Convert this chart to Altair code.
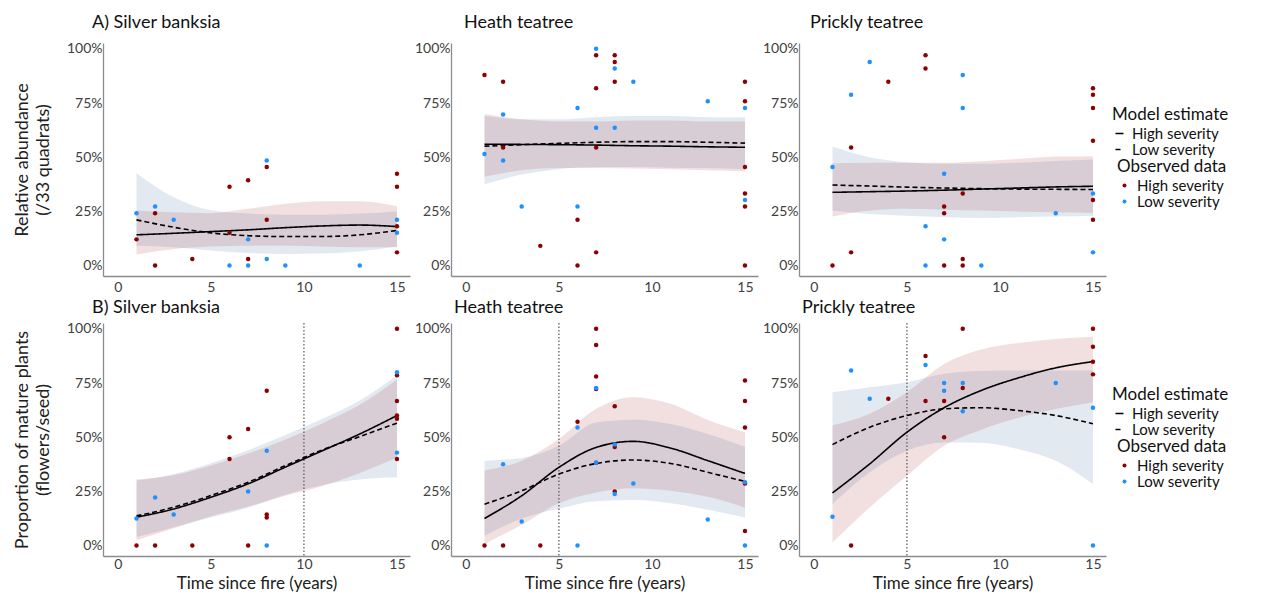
import altair as alt
import pandas as pd

FONT = "Lato"
SEV = ["High severity", "Low severity"]
XS = [1, 3, 5, 7, 9, 11, 13, 15]
X_TICKS = [0, 5, 10, 15]
Y_TICKS = [0, 25, 50, 75, 100]
X_DOMAIN = [-0.8, 15.7]
Y_DOMAIN = [-4.8, 102.7]

# ---------------- Observed data (percent) ----------------
A_BANKSIA_HIGH_X = [1, 2, 2, 4, 6, 6, 7, 7, 8, 8, 15, 15, 15, 15]
A_BANKSIA_HIGH_Y = [12.1, 24.2, 0, 3.0, 36.4, 15.2, 39.4, 3.0, 45.5, 21.2, 42.4, 36.4, 18.2, 6.1]
A_BANKSIA_LOW_X = [1, 2, 3, 6, 7, 7, 8, 8, 9, 13, 15, 15]
A_BANKSIA_LOW_Y = [24.2, 27.3, 21.2, 0, 12.1, 0, 48.5, 3.0, 0, 0, 21.2, 15.2]

A_HEATH_HIGH_X = [1, 2, 2, 4, 6, 6, 7, 7, 7, 7, 8, 8, 8, 15, 15, 15, 15, 15, 15]
A_HEATH_HIGH_Y = [87.9, 84.8, 54.5, 9.1, 21.2, 0, 97.0, 81.8, 54.5, 6.1, 97.0, 93.9, 84.8, 84.8, 75.8, 45.5, 33.3, 27.3, 0]
A_HEATH_LOW_X = [1, 2, 2, 3, 6, 6, 7, 7, 8, 8, 9, 13, 15, 15]
A_HEATH_LOW_Y = [51.5, 69.7, 48.5, 27.3, 72.7, 27.3, 100, 63.6, 90.9, 63.6, 84.8, 75.8, 72.7, 30.3]

A_PRICKLY_HIGH_X = [1, 2, 2, 4, 6, 6, 7, 7, 7, 8, 8, 8, 15, 15, 15, 15, 15, 15]
A_PRICKLY_HIGH_Y = [0, 6.1, 54.5, 84.8, 97.0, 90.9, 27.3, 24.2, 0, 33.3, 3.0, 0, 81.8, 78.8, 72.7, 57.6, 30.3, 21.2]
A_PRICKLY_LOW_X = [1, 2, 3, 6, 6, 7, 7, 8, 8, 9, 13, 15, 15]
A_PRICKLY_LOW_Y = [45.5, 78.8, 93.9, 18.2, 0, 42.4, 12.1, 87.9, 72.7, 0, 24.2, 33.3, 6.1]

B_BANKSIA_HIGH_X = [1, 2, 4, 6, 6, 7, 7, 8, 8, 8, 15, 15, 15, 15, 15, 15]
B_BANKSIA_HIGH_Y = [0, 0, 0, 50, 40, 53.8, 0, 71.4, 14.3, 13.0, 100, 78.6, 66.7, 60, 58.5, 40]
B_BANKSIA_LOW_X = [1, 2, 3, 7, 8, 8, 15, 15]
B_BANKSIA_LOW_Y = [12.5, 22.2, 14.3, 25, 43.8, 0, 80, 42.9]

B_HEATH_HIGH_X = [1, 2, 4, 6, 7, 7, 7, 7, 7, 8, 8, 8, 15, 15, 15, 15, 15]
B_HEATH_HIGH_Y = [0, 0, 0, 57.1, 100, 92.6, 78, 72.2, 38.2, 64.3, 45.5, 25, 76.2, 66.7, 54.5, 28.6, 6.7]
B_HEATH_LOW_X = [2, 3, 6, 6, 7, 7, 8, 8, 9, 13, 15, 15]
B_HEATH_LOW_Y = [37.5, 11.1, 54.5, 0, 72.7, 38.2, 46.7, 23.8, 28.6, 12.0, 29.2, 0]

B_PRICKLY_HIGH_X = [2, 4, 6, 6, 7, 7, 8, 8, 15, 15, 15, 15]
B_PRICKLY_HIGH_Y = [0, 67.7, 87.5, 66.7, 66.7, 50, 100, 72.7, 100, 91.7, 84.8, 79]
B_PRICKLY_LOW_X = [1, 2, 3, 6, 7, 7, 8, 8, 13, 15, 15]
B_PRICKLY_LOW_Y = [13.3, 80.8, 67.7, 83.3, 75, 71.4, 75, 62, 75, 63.6, 0]

# ---------------- Model estimates at XS (percent) ----------------
A_BANKSIA_FIT_HIGH = [14.2, 14.9, 15.7, 16.5, 17.5, 18.3, 18.7, 18.0]
A_BANKSIA_FIT_LOW = [21.1, 17.7, 15.1, 13.8, 13.4, 13.4, 14.2, 16.2]
A_BANKSIA_CI_HIGH_LO = [5.1, 7.7, 8.8, 9.2, 9.2, 8.8, 8.5, 8.5]
A_BANKSIA_CI_HIGH_HI = [25.4, 24.6, 24.2, 26.2, 28.5, 29.7, 29.7, 27.4]
A_BANKSIA_CI_LOW_LO = [9.2, 8.5, 7.0, 5.8, 5.4, 5.6, 6.6, 8.8]
A_BANKSIA_CI_LOW_HI = [42.6, 31.5, 25.5, 24.0, 23.5, 23.5, 24.0, 25.0]

A_HEATH_FIT_HIGH = [56.0, 55.9, 55.8, 55.6, 55.3, 55.1, 54.8, 54.6]
A_HEATH_FIT_LOW = [55.1, 55.8, 56.4, 56.9, 57.2, 57.2, 56.9, 56.5]
A_HEATH_CI_HIGH_LO = [41.0, 44.0, 45.0, 45.0, 44.8, 44.5, 44.0, 43.5]
A_HEATH_CI_HIGH_HI = [70.0, 67.5, 66.5, 66.5, 67.0, 67.0, 66.5, 66.5]
A_HEATH_CI_LOW_LO = [37.5, 42.0, 44.5, 45.5, 45.5, 45.2, 45.0, 44.5]
A_HEATH_CI_LOW_HI = [69.0, 67.5, 67.5, 68.5, 69.0, 69.0, 68.5, 68.5]

A_PRICKLY_FIT_HIGH = [33.8, 34.1, 34.4, 34.8, 35.3, 35.8, 36.3, 36.6]
A_PRICKLY_FIT_LOW = [37.2, 36.7, 36.2, 35.8, 35.5, 35.3, 35.2, 35.1]
A_PRICKLY_CI_HIGH_LO = [22.6, 25.4, 26.2, 25.8, 25.4, 25.0, 24.6, 24.3]
A_PRICKLY_CI_HIGH_HI = [47.2, 47.4, 47.4, 47.4, 48.2, 49.2, 50.3, 50.5]
A_PRICKLY_CI_LOW_LO = [25.4, 23.8, 23.0, 22.3, 22.0, 22.3, 22.6, 23.0]
A_PRICKLY_CI_LOW_HI = [55.0, 50.0, 47.7, 47.0, 47.0, 47.5, 48.3, 49.0]

B_BANKSIA_FIT_HIGH = [13.1, 16.9, 22.3, 28.5, 36.2, 43.8, 51.5, 60.0]
B_BANKSIA_FIT_LOW = [13.7, 17.7, 23.1, 29.2, 36.9, 44.2, 50.3, 56.5]
B_BANKSIA_CI_HIGH_LO = [2.5, 8.0, 13.5, 18.0, 23.0, 27.5, 33.5, 40.5]
B_BANKSIA_CI_HIGH_HI = [30.5, 32.5, 37.0, 42.5, 49.0, 56.5, 65.0, 76.5]
B_BANKSIA_CI_LOW_LO = [4.0, 8.5, 13.0, 17.5, 23.5, 28.0, 30.5, 31.5]
B_BANKSIA_CI_LOW_HI = [30.0, 33.0, 38.0, 44.0, 51.0, 58.5, 67.0, 78.5]

B_HEATH_FIT_HIGH = [12.5, 23.0, 36.1, 45.3, 48.1, 45.0, 39.2, 33.3]
B_HEATH_FIT_LOW = [19.1, 25.3, 33.0, 37.9, 39.5, 37.9, 33.8, 29.6]
B_HEATH_CI_HIGH_LO = [0.7, 9.6, 19.5, 24.5, 26.5, 25.3, 22.5, 17.5]
B_HEATH_CI_HIGH_HI = [34.6, 39.2, 49.2, 63.1, 68.5, 65.4, 58.0, 52.3]
B_HEATH_CI_LOW_LO = [4.5, 12.5, 17.0, 20.5, 21.0, 19.5, 16.5, 13.0]
B_HEATH_CI_LOW_HI = [39.2, 40.4, 46.1, 56.8, 58.1, 56.1, 51.5, 45.6]

B_PRICKLY_FIT_HIGH = [24.3, 37.7, 52.3, 63.6, 71.6, 77.4, 82.0, 84.9]
B_PRICKLY_FIT_LOW = [46.6, 54.6, 60.0, 63.1, 63.6, 62.3, 60.0, 56.2]
B_PRICKLY_CI_HIGH_LO = [1.4, 17.6, 32.2, 46.1, 53.5, 59.0, 63.0, 66.1]
B_PRICKLY_CI_HIGH_HI = [55.4, 60.8, 70.8, 83.8, 90.5, 93.5, 95.3, 96.4]
B_PRICKLY_CI_LOW_LO = [19.2, 33.8, 43.8, 47.6, 47.5, 44.5, 39.2, 28.4]
B_PRICKLY_CI_LOW_HI = [70.8, 73.0, 75.4, 79.3, 80.6, 80.8, 80.8, 80.8]

# vertical reference lines (row B)
B_RULES = [10, 5, 5]

TITLES_A = ["A)  Silver banksia", "Heath teatree", "Prickly teatree"]
TITLES_B = ["B)  Silver banksia", "Heath teatree", "Prickly teatree"]
Y_TITLE_A = ["Relative abundance", "(/33 quadrats)"]
Y_TITLE_B = ["Proportion of mature plants", "(flowers/seed)"]
X_TITLE_B = "Time since fire (years)"

PANEL_W, PANEL_H = 307, 233
POINT_COLORS = ["#8b0000", "#1e90ff"]
BAND_COLORS = ["#a52a2a", "#466a9a"]


def make_panel(title, title_dx, title_offset, pts, fit, ci, rule_x, y_title, x_title,
               x_label_pad):
    pts_df = pd.DataFrame({
        "x": pts[0] + pts[2],
        "y": pts[1] + pts[3],
        "sev": [SEV[0]] * len(pts[0]) + [SEV[1]] * len(pts[2]),
    })
    n = len(XS)
    cur_df = pd.DataFrame({
        "x": XS + XS,
        "est": fit[0] + fit[1],
        "lo": ci[0] + ci[2],
        "hi": ci[1] + ci[3],
        "sev": [SEV[0]] * n + [SEV[1]] * n,
    })
    xscale = alt.Scale(domain=X_DOMAIN, nice=False, zero=False)
    yscale = alt.Scale(domain=Y_DOMAIN, nice=False, zero=False)
    xax = alt.Axis(values=X_TICKS, title=x_title, labelPadding=x_label_pad,
                   titleFontSize=17, titlePadding=4)
    yax = alt.Axis(values=Y_TICKS, title=y_title, labelExpr="datum.value + '%'",
                   labelPadding=1, titleFontSize=18, titlePadding=14,
                   titleLineHeight=21)

    def X():
        return alt.X("x:Q", scale=xscale, axis=xax)

    band = alt.Chart(cur_df).mark_area(opacity=0.15, interpolate="monotone").encode(
        x=X(),
        y=alt.Y("lo:Q", scale=yscale, axis=yax),
        y2="hi:Q",
        fill=alt.Fill("sev:N", scale=alt.Scale(range=BAND_COLORS), legend=None),
    )
    line = alt.Chart(cur_df).mark_line(color="black", strokeWidth=1.6,
                                       interpolate="monotone").encode(
        x=X(),
        y=alt.Y("est:Q", scale=yscale, axis=yax),
        strokeDash=alt.StrokeDash(
            "sev:N",
            scale=alt.Scale(range=[[1, 0], [5, 3]]),
            legend=alt.Legend(title="Model estimate", orient="none",
                              legendX=1009, legendY=64, symbolType="stroke",
                              symbolStrokeColor="black", symbolSize=64,
                              symbolStrokeWidth=1.5),
        ),
    )
    points = alt.Chart(pts_df).mark_circle(size=20, opacity=1).encode(
        x=X(),
        y=alt.Y("y:Q", scale=yscale, axis=yax),
        color=alt.Color(
            "sev:N",
            scale=alt.Scale(range=POINT_COLORS),
            legend=alt.Legend(title="Observed data", orient="none",
                              legendX=1014, legendY=116, symbolType="circle",
                              symbolSize=16),
        ),
    )
    layers = [band]
    if rule_x is not None:
        rule = alt.Chart(pd.DataFrame({"x": [rule_x]})).mark_rule(
            color="#555555", strokeDash=[1.5, 2], strokeWidth=1.2
        ).encode(x=X())
        layers.append(rule)
    layers += [line, points]
    return alt.layer(*layers).properties(
        width=PANEL_W, height=PANEL_H,
        title=alt.TitleParams(text=title, dx=title_dx, offset=title_offset),
    )


row_a = alt.hconcat(
    make_panel(TITLES_A[0], -11, 10,
               (A_BANKSIA_HIGH_X, A_BANKSIA_HIGH_Y, A_BANKSIA_LOW_X, A_BANKSIA_LOW_Y),
               (A_BANKSIA_FIT_HIGH, A_BANKSIA_FIT_LOW),
               (A_BANKSIA_CI_HIGH_LO, A_BANKSIA_CI_HIGH_HI, A_BANKSIA_CI_LOW_LO, A_BANKSIA_CI_LOW_HI),
               None, Y_TITLE_A, None, 4),
    make_panel(TITLES_A[1], 13, 10,
               (A_HEATH_HIGH_X, A_HEATH_HIGH_Y, A_HEATH_LOW_X, A_HEATH_LOW_Y),
               (A_HEATH_FIT_HIGH, A_HEATH_FIT_LOW),
               (A_HEATH_CI_HIGH_LO, A_HEATH_CI_HIGH_HI, A_HEATH_CI_LOW_LO, A_HEATH_CI_LOW_HI),
               None, None, None, 4),
    make_panel(TITLES_A[2], 11, 10,
               (A_PRICKLY_HIGH_X, A_PRICKLY_HIGH_Y, A_PRICKLY_LOW_X, A_PRICKLY_LOW_Y),
               (A_PRICKLY_FIT_HIGH, A_PRICKLY_FIT_LOW),
               (A_PRICKLY_CI_HIGH_LO, A_PRICKLY_CI_HIGH_HI, A_PRICKLY_CI_LOW_LO, A_PRICKLY_CI_LOW_HI),
               None, None, None, 4),
).properties(spacing=41, bounds="flush")

row_b = alt.hconcat(
    make_panel(TITLES_B[0], -11, 5,
               (B_BANKSIA_HIGH_X, B_BANKSIA_HIGH_Y, B_BANKSIA_LOW_X, B_BANKSIA_LOW_Y),
               (B_BANKSIA_FIT_HIGH, B_BANKSIA_FIT_LOW),
               (B_BANKSIA_CI_HIGH_LO, B_BANKSIA_CI_HIGH_HI, B_BANKSIA_CI_LOW_LO, B_BANKSIA_CI_LOW_HI),
               B_RULES[0], Y_TITLE_B, X_TITLE_B, 1),
    make_panel(TITLES_B[1], 3, 5,
               (B_HEATH_HIGH_X, B_HEATH_HIGH_Y, B_HEATH_LOW_X, B_HEATH_LOW_Y),
               (B_HEATH_FIT_HIGH, B_HEATH_FIT_LOW),
               (B_HEATH_CI_HIGH_LO, B_HEATH_CI_HIGH_HI, B_HEATH_CI_LOW_LO, B_HEATH_CI_LOW_HI),
               B_RULES[1], None, X_TITLE_B, 1),
    make_panel(TITLES_B[2], 3, 5,
               (B_PRICKLY_HIGH_X, B_PRICKLY_HIGH_Y, B_PRICKLY_LOW_X, B_PRICKLY_LOW_Y),
               (B_PRICKLY_FIT_HIGH, B_PRICKLY_FIT_LOW),
               (B_PRICKLY_CI_HIGH_LO, B_PRICKLY_CI_HIGH_HI, B_PRICKLY_CI_LOW_LO, B_PRICKLY_CI_LOW_HI),
               B_RULES[2], None, X_TITLE_B, 1),
).properties(spacing=41, bounds="flush")

chart = alt.vconcat(row_a, row_b).properties(
    spacing=4, padding=5,
).resolve_scale(
    color="independent", strokeDash="independent", fill="independent"
).configure_view(
    stroke=None
).configure_axis(
    domainColor="#8c8c8c", domainWidth=1.3, ticks=False, grid=False,
    labelFont=FONT, labelFontSize=14, labelColor="#404040",
    titleFont=FONT, titleFontWeight="normal", titleColor="#202020",
).configure_title(
    font=FONT, fontSize=18, fontWeight="normal", anchor="start", frame="group",
    color="#111111",
).configure_legend(
    titleFont=FONT, titleFontSize=17, titleFontWeight="normal", titleColor="#111111",
    labelFont=FONT, labelFontSize=15, labelColor="#111111",
    rowPadding=-1, titlePadding=2, labelOffset=5,
)

chart.save("out.html", embed_options={"renderer": "svg", "actions": False})
